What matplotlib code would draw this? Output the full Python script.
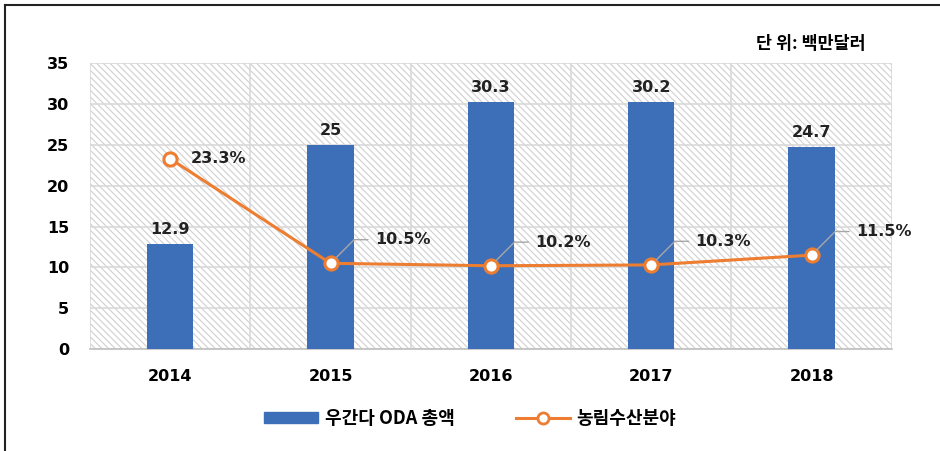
import numpy as np
import matplotlib.pyplot as plt
from matplotlib.patches import Rectangle
from matplotlib.lines import Line2D

plt.rcParams['font.family'] = ['DejaVu Sans', 'Noto Sans CJK KR']
plt.rcParams['hatch.linewidth'] = 0.8

years = ['2014', '2015', '2016', '2017', '2018']
oda_total = [12.9, 25, 30.3, 30.2, 24.7]
agri_share = [23.3, 10.5, 10.2, 10.3, 11.5]
oda_labels = ['12.9', '25', '30.3', '30.2', '24.7']
share_labels = ['23.3%', '10.5%', '10.2%', '10.3%', '11.5%']

bar_color = '#3d6fb9'
line_color = '#ed7d31'
kr_font = ['Noto Sans CJK KR', 'DejaVu Sans']

fig = plt.figure(figsize=(9.4, 4.51), dpi=100)
ax = fig.add_axes([0.0957, 0.226, 0.853, 0.634])

x = np.arange(len(years))

# hatched plot background
ax.add_patch(Rectangle((0, 0), 1, 1, transform=ax.transAxes, facecolor='white',
                       edgecolor='#d0d0d0', linewidth=0, hatch='\\' * 5,
                       zorder=0.5))

ax.set_xlim(-0.5, len(years) - 0.5)
ax.set_ylim(0, 35)
ax.set_yticks(range(0, 36, 5))
ax.set_xticks(x)
ax.set_xticks(np.arange(-0.5, len(years), 1), minor=True)
ax.grid(axis='y', color='#d9d9d9', linewidth=1.2, zorder=1)
ax.grid(axis='x', which='minor', color='#d9d9d9', linewidth=1.2, zorder=1)
ax.set_axisbelow(True)

for s in ['top', 'right', 'left']:
    ax.spines[s].set_visible(False)
ax.spines['bottom'].set_color('#bfbfbf')
ax.spines['bottom'].set_linewidth(1.2)

ax.tick_params(axis='y', length=0, pad=15, labelsize=11.5)
ax.tick_params(axis='x', which='major', length=0, pad=14, labelsize=11.5)
ax.tick_params(axis='x', which='minor', length=0)
ax.set_xticklabels(years, fontweight='bold')
for lab in ax.get_yticklabels():
    lab.set_fontweight('bold')

ax.bar(x, oda_total, width=0.29, color=bar_color, zorder=3)
for xi, v, lab in zip(x, oda_total, oda_labels):
    ax.annotate(lab, (xi, v), xytext=(0, 5), textcoords='offset points',
                ha='center', va='bottom', fontsize=11.5, fontweight='bold',
                color='#222222', zorder=5)

ax.plot(x, agri_share, color=line_color, linewidth=2.2, marker='o',
        markersize=9.5, markerfacecolor='white', markeredgewidth=2.2,
        markeredgecolor=line_color, zorder=4)

# first label sits right of the marker, the rest use leader lines
ax.annotate(share_labels[0], (x[0], agri_share[0]), xytext=(15, 0),
            textcoords='offset points', ha='left', va='center',
            fontsize=11.5, fontweight='bold', color='#222222', zorder=5)
for xi, v, lab in zip(x[1:], agri_share[1:], share_labels[1:]):
    ax.annotate('', (xi, v), xytext=(27, 17), textcoords='offset points',
                arrowprops=dict(arrowstyle='-', color='#a6a6a6', lw=1,
                                shrinkA=0, shrinkB=5,
                                connectionstyle='angle,angleA=0,angleB=45,rad=0'),
                zorder=5)
    ax.annotate(lab, (xi, v), xytext=(32, 17), textcoords='offset points',
                ha='left', va='center', fontsize=11.5, fontweight='bold',
                color='#222222', zorder=5)

fig.text(0.921, 0.903, '단 위: 백만달러', ha='right', va='center',
         fontsize=12.5, fontweight='heavy', family=kr_font)

handles = [Rectangle((0, 0), 1, 1, color=bar_color),
           Line2D([], [], color=line_color, linewidth=2.2, marker='o',
                  markersize=8, markerfacecolor='white', markeredgewidth=2,
                  markeredgecolor=line_color)]
fig.legend(handles, ['우간다 ODA 총액', '농림수산분야'], loc='center',
           bbox_to_anchor=(0.5, 0.073), ncol=2, frameon=False,
           prop={'size': 13, 'weight': 'bold', 'family': kr_font},
           handlelength=3.0, handleheight=0.55, columnspacing=3.4,
           handletextpad=0.35)

# outer frame (top and left edges)
fig.add_artist(Line2D([0.005, 1.0], [0.989, 0.989], transform=fig.transFigure,
                      color='#222222', linewidth=1.5))
fig.add_artist(Line2D([0.005, 0.005], [0.0, 0.989], transform=fig.transFigure,
                      color='#222222', linewidth=1.5))

fig.savefig('out.png', dpi=100)
